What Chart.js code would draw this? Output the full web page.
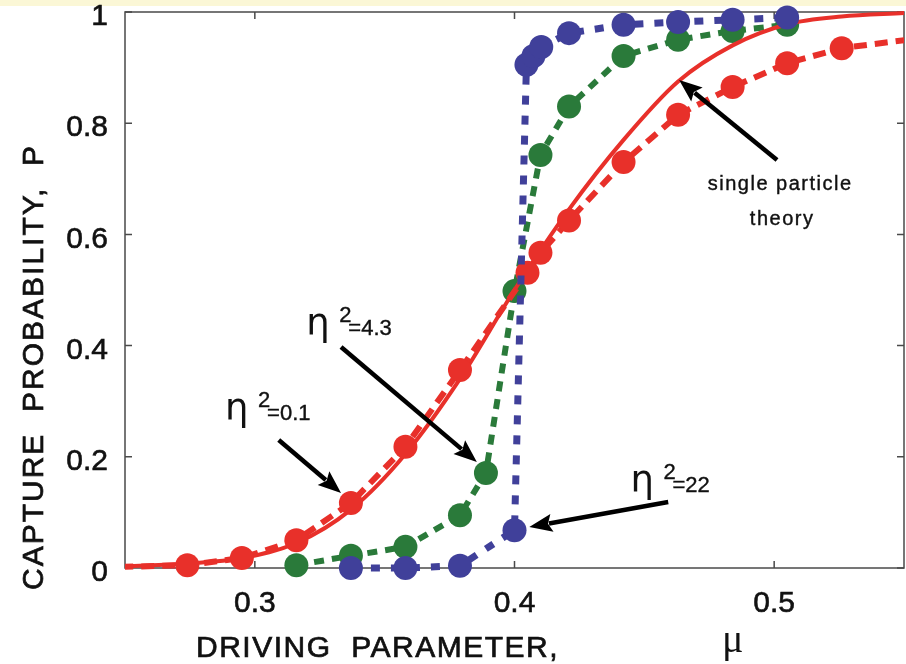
<!DOCTYPE html>
<html>
<head>
<meta charset="utf-8">
<script src="https://cdn.jsdelivr.net/npm/chart.js@4.4.1/dist/chart.umd.min.js"></script>
<style>
html, body { margin: 0; padding: 0; background: #fff; overflow: hidden; }
#wrap { position: relative; width: 906px; height: 664px; overflow: hidden; }
#band { position: absolute; left: 0; top: 0; width: 906px; height: 6px; background: #fbf7d6; }
#chart { position: absolute; left: 0; top: 0; }
</style>
</head>
<body>
<div id="wrap"><div id="band"></div><canvas id="chart" width="916" height="664"></canvas></div>
<script>
// single particle theory (solid red)
var muTheory = [0.25, 0.274, 0.295, 0.316, 0.337, 0.358, 0.379, 0.40, 0.421, 0.442, 0.463, 0.484, 0.505, 0.526, 0.55];
var pTheory  = [0.003, 0.008, 0.018, 0.045, 0.105, 0.205, 0.34, 0.50, 0.645, 0.77, 0.875, 0.94, 0.978, 0.992, 0.998];

// eta^2 = 0.1 (red, dashed)
var muEta01 = [0.232, 0.274, 0.295, 0.316, 0.337, 0.358, 0.379, 0.405, 0.410, 0.421, 0.442, 0.463, 0.484, 0.505, 0.526, 0.568];
var pEta01  = [0.0, 0.005, 0.018, 0.05, 0.117, 0.218, 0.356, 0.531, 0.567, 0.625, 0.73, 0.815, 0.865, 0.908, 0.935, 0.96];

// eta^2 = 4.3 (green, dashed)
var muEta43 = [0.316, 0.337, 0.358, 0.379, 0.389, 0.400, 0.410, 0.421, 0.442, 0.463, 0.484, 0.505];
var pEta43  = [0.005, 0.022, 0.038, 0.095, 0.171, 0.498, 0.743, 0.83, 0.921, 0.95, 0.966, 0.977];

// eta^2 = 22 (blue, dotted)
var muEta22 = [0.337, 0.358, 0.379, 0.400, 0.4046, 0.4073, 0.4103, 0.421, 0.442, 0.463, 0.484, 0.505];
var pEta22  = [0.0, 0.0, 0.004, 0.068, 0.905, 0.921, 0.937, 0.962, 0.977, 0.982, 0.986, 0.99];

var xTicks = [0.3, 0.4, 0.5];
var yTicks = [0, 0.2, 0.4, 0.6, 0.8, 1];

var RED = '#e8302a', GREEN = '#2a7a3a', BLUE = '#40409a';
var SANS = '"Liberation Sans", Arial, Helvetica, sans-serif';
var SERIF = '"Liberation Serif", "Times New Roman", serif';
var GREEK = '"DejaVu Sans", sans-serif';

function pts(xs, ys) {
    return xs.map(function(x, i) { return { x: x, y: ys[i] }; });
}

// labels and arrows, placed in data units
var notes = [
    { value: '0.1', x: 0.2893, y: 0.2662, from: [0.3092, 0.2302], to: [0.3332, 0.1349] },
    { value: '4.3', x: 0.3206, y: 0.4191, from: [0.3332, 0.3975], to: [0.3855, 0.1906] },
    { value: '22',  x: 0.4454, y: 0.1367, from: [0.4592, 0.1187], to: [0.4057, 0.0737] }
];
var theoryNote = { x: 0.5023, y: 0.689, from: [0.5011, 0.7338], to: [0.4634, 0.8777] };

function heavyText(ctx, s, x, y, w) {
    ctx.fillText(s, x, y);
    ctx.lineWidth = w;
    ctx.strokeStyle = ctx.fillStyle;
    ctx.strokeText(s, x, y);
}

function drawArrow(ctx, x1, y1, x2, y2) {
    var a = Math.atan2(y2 - y1, x2 - x1), head = 23, half = 9;
    var bx = x2 - head * Math.cos(a), by = y2 - head * Math.sin(a);
    ctx.strokeStyle = '#000';
    ctx.fillStyle = '#000';
    ctx.lineWidth = 4.5;
    ctx.beginPath(); ctx.moveTo(x1, y1); ctx.lineTo(bx + 3 * Math.cos(a), by + 3 * Math.sin(a)); ctx.stroke();
    ctx.beginPath();
    ctx.moveTo(x2, y2);
    ctx.lineTo(bx + half * Math.sin(a), by - half * Math.cos(a));
    ctx.lineTo(bx + 4 * Math.cos(a), by + 4 * Math.sin(a));
    ctx.lineTo(bx - half * Math.sin(a), by + half * Math.cos(a));
    ctx.closePath();
    ctx.fill();
}

var framePlugin = {
    id: 'frame',
    beforeDatasetsDraw: function(chart) {
        var ctx = chart.ctx, a = chart.chartArea, xs = chart.scales.x, ys = chart.scales.y;
        ctx.save();
        ctx.strokeStyle = '#4a4a4a';
        ctx.lineWidth = 1.5;
        ctx.strokeRect(a.left, a.top, a.right - a.left, a.bottom - a.top);
        ctx.beginPath();
        xTicks.forEach(function(v) {
            var px = xs.getPixelForValue(v);
            ctx.moveTo(px, a.bottom); ctx.lineTo(px, a.bottom - 7);
            ctx.moveTo(px, a.top); ctx.lineTo(px, a.top + 7);
        });
        yTicks.forEach(function(v) {
            var py = ys.getPixelForValue(v);
            ctx.moveTo(a.left, py); ctx.lineTo(a.left + 7, py);
            ctx.moveTo(a.right, py); ctx.lineTo(a.right - 7, py);
        });
        ctx.stroke();
        ctx.restore();
    },
    afterDatasetsDraw: function(chart) {
        var ctx = chart.ctx, xs = chart.scales.x, ys = chart.scales.y;
        ctx.save();
        notes.forEach(function(n) {
            var px = xs.getPixelForValue(n.x), py = ys.getPixelForValue(n.y);
            ctx.fillStyle = '#111';
            ctx.textBaseline = 'alphabetic';
            ctx.textAlign = 'left';
            ctx.font = '37px ' + GREEK;
            ctx.fillText('\u03b7', px - 2, py);
            ctx.font = '22px ' + SANS;
            heavyText(ctx, '2', px + 31, py - 13, 0.4);
            heavyText(ctx, '=' + n.value, px + 40, py, 0.4);
            drawArrow(ctx, xs.getPixelForValue(n.from[0]), ys.getPixelForValue(n.from[1]),
                      xs.getPixelForValue(n.to[0]), ys.getPixelForValue(n.to[1]));
        });
        var tx = xs.getPixelForValue(theoryNote.x), ty = ys.getPixelForValue(theoryNote.y);
        ctx.fillStyle = '#111';
        ctx.font = '20px ' + SANS;
        ctx.letterSpacing = '1.5px';
        ctx.textAlign = 'center';
        ctx.textBaseline = 'middle';
        heavyText(ctx, 'single particle', tx, ty, 0.4);
        heavyText(ctx, 'theory', tx + 2, ty + 35, 0.4);
        ctx.letterSpacing = '0px';
        drawArrow(ctx, xs.getPixelForValue(theoryNote.from[0]), ys.getPixelForValue(theoryNote.from[1]),
                  xs.getPixelForValue(theoryNote.to[0]), ys.getPixelForValue(theoryNote.to[1]));
        ctx.restore();
    },
    afterDraw: function(chart) {
        var ctx = chart.ctx;
        ctx.save();
        ctx.fillStyle = '#111';
        ctx.font = '30px ' + SANS;
        ctx.letterSpacing = '1.5px';
        ctx.textAlign = 'left';
        ctx.textBaseline = 'alphabetic';
        heavyText(ctx, 'DRIVING  PARAMETER,', 196, 657, 0.7);
        ctx.letterSpacing = '2px';
        ctx.save();
        ctx.translate(43, 590);
        ctx.rotate(-Math.PI / 2);
        heavyText(ctx, 'CAPTURE  PROBABILITY,  P', 0, 0, 0.7);
        ctx.restore();
        ctx.letterSpacing = '0px';
        ctx.font = '40px ' + SERIF;
        ctx.fillText('\u03bc', 722, 652);
        ctx.restore();
    }
};

var lineBase = { showLine: true, borderCapStyle: 'butt', pointRadius: 12, pointHoverRadius: 12, pointBorderWidth: 0,
                 clip: { left: 0, right: 0, top: false, bottom: false } };

var ctx = document.getElementById('chart').getContext('2d');
var chart = new Chart(ctx, {
    type: 'scatter',
    data: {
        datasets: [
            Object.assign({}, lineBase, {
                label: 'eta^2=22', data: pts(muEta22, pEta22),
                borderColor: BLUE, backgroundColor: BLUE, borderWidth: 7, borderDash: [9, 11], order: 0
            }),
            Object.assign({}, lineBase, {
                label: 'eta^2=0.1', data: pts(muEta01, pEta01),
                borderColor: RED, backgroundColor: RED, borderWidth: 6, borderDash: [13, 8], order: 1
            }),
            Object.assign({}, lineBase, {
                label: 'single particle theory', data: pts(muTheory, pTheory),
                borderColor: RED, backgroundColor: RED, borderWidth: 4, pointRadius: 0, pointHoverRadius: 0,
                cubicInterpolationMode: 'monotone', order: 2
            }),
            Object.assign({}, lineBase, {
                label: 'eta^2=4.3', data: pts(muEta43, pEta43),
                borderColor: GREEN, backgroundColor: GREEN, borderWidth: 6, borderDash: [10, 8], order: 3
            })
        ]
    },
    options: {
        responsive: false,
        animation: false,
        layout: { padding: { top: 12, right: 5, left: 0, bottom: 0 } },
        plugins: { legend: { display: false }, tooltip: { enabled: false } },
        scales: {
            x: {
                type: 'linear', min: 0.25, max: 0.55,
                afterBuildTicks: function(s) { s.ticks = xTicks.map(function(v) { return { value: v }; }); },
                afterFit: function(s) { s.height = 96; s.paddingLeft = 0; s.paddingRight = 0; },
                grid: { display: false, drawTicks: false },
                border: { display: false },
                ticks: { font: { family: SANS, size: 30 }, color: '#111', padding: 18, maxRotation: 0,
                         textStrokeColor: '#111', textStrokeWidth: 0.6,
                         callback: function(v) { return v.toFixed(1); } }
            },
            y: {
                type: 'linear', min: 0, max: 1,
                afterBuildTicks: function(s) { s.ticks = yTicks.map(function(v) { return { value: v }; }); },
                afterFit: function(s) { s.width = 125; s.paddingTop = 0; s.paddingBottom = 0; },
                grid: { display: false, drawTicks: false },
                border: { display: false },
                ticks: { font: { family: SANS, size: 30 }, color: '#111', padding: 17, labelOffset: 5,
                         textStrokeColor: '#111', textStrokeWidth: 0.6,
                         callback: function(v) { return (v === 0 || v === 1) ? String(v) : v.toFixed(1); } }
            }
        }
    },
    plugins: [framePlugin]
});
</script>
</body>
</html>
